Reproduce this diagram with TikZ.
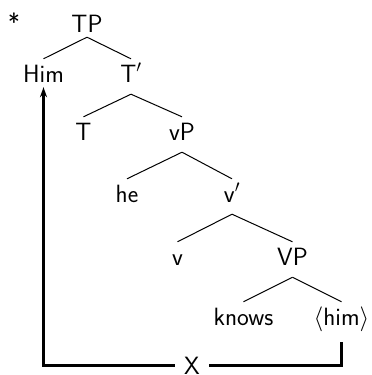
\documentclass[tikz,border=0pt]{standalone}
\usepackage{fontspec}
\usetikzlibrary{arrows.meta}
\begin{document}
\begin{tikzpicture}[x=1pt,y=-1pt,
  every node/.style={font=\sffamily\fontsize{25}{30}\selectfont, inner sep=0pt, anchor=base, text height=23pt, text depth=12pt},
  branch/.style={line width=1pt},
  move/.style={line width=2.2pt},
  mover/.style={move, -{Stealth[length=10pt,width=7pt]}}]
\useasboundingbox (0,0) rectangle (372,375);
\node (star) at (14,31) {*};
\node[text depth=5pt] (TP) at (87,32) {TP};
\node[text depth=5pt] (Him) at (43.5,82) {Him};
\node (Tb) at (131,82) {T$'$};
\node (T) at (83.5,140) {T};
\node (vP) at (182,140) {vP};
\node (he) at (127,202) {he};
\node (vb) at (232,202) {v$'$};
\node (v) at (177.5,265) {v};
\node (VP) at (292.5,265) {VP};
\node (knows) at (243.5,325) {knows};
\node[text depth=17pt] (him) at (341.5,325) {$\langle$him$\rangle$};
\node[anchor=center, text height=, text depth=, inner xsep=9pt] (X) at (192,365.5) {X};
\draw[branch] (TP.south) -- (Him.north);
\draw[branch] (TP.south) -- (Tb.north);
\draw[branch] (Tb.south) -- (T.north);
\draw[branch] (Tb.south) -- (vP.north);
\draw[branch] (vP.south) -- (he.north);
\draw[branch] (vP.south) -- (vb.north);
\draw[branch] (vb.south) -- (v.north);
\draw[branch] (vb.south) -- (VP.north);
\draw[branch] (VP.south) -- (knows.north);
\draw[branch] (VP.south) -- (him.north);
\draw[move] (him.south) -- (him.south |- X.center) -- (X.east);
\draw[mover] (X.west) -- (X.west -| Him.south) -- (Him.south);
\end{tikzpicture}
\end{document}
